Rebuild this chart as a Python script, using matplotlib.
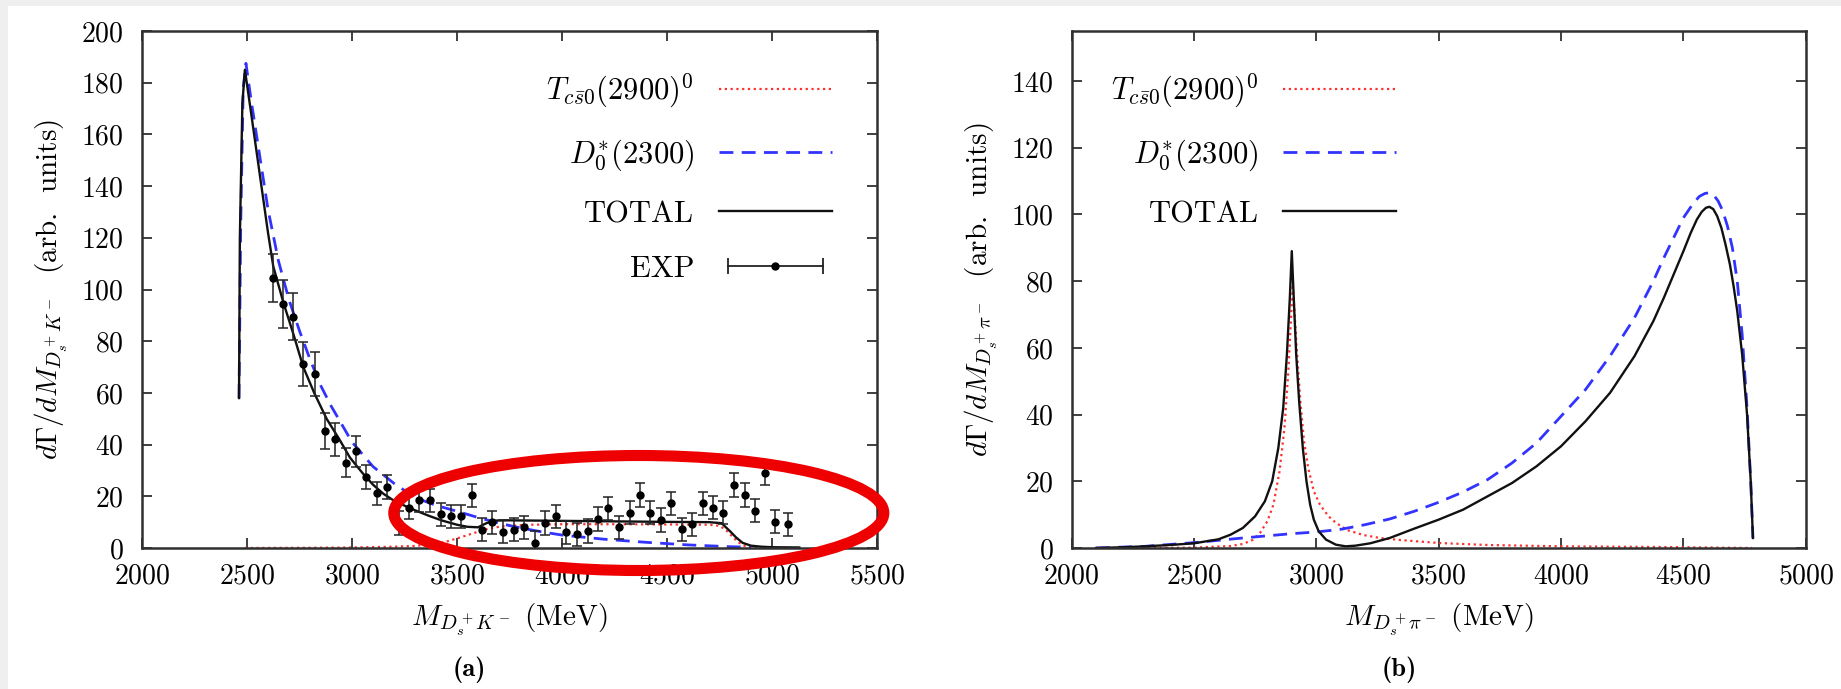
import matplotlib
matplotlib.use("Agg")
import matplotlib.pyplot as plt
from matplotlib.lines import Line2D
from matplotlib.patches import Ellipse, Rectangle
from matplotlib.legend_handler import HandlerLine2D, HandlerTuple

plt.rcParams['font.family'] = ['cmr10', 'DejaVu Serif']
plt.rcParams['mathtext.fontset'] = 'cm'
plt.rcParams['axes.formatter.use_mathtext'] = True

# ---------------- panel (a) data ----------------
exp_x = [2626, 2671, 2718, 2766, 2822, 2872, 2920, 2970, 3020, 3068,
         3118, 3166, 3222, 3272, 3320, 3370, 3423, 3473, 3521, 3571,
         3619, 3669, 3719, 3772, 3817, 3870, 3921, 3971, 4021, 4070,
         4125, 4173, 4218, 4271, 4324, 4371, 4419, 4470, 4517, 4573,
         4620, 4670, 4720, 4768, 4820, 4871, 4919, 4967, 5014, 5075]
exp_y = [104.5, 94.5, 89.5, 71.2, 67.3, 45.4, 42.0, 33.0, 37.5, 27.5,
         21.2, 23.6, 9.7, 15.6, 18.5, 18.5, 13.1, 12.2, 12.2, 20.4,
         7.1, 10.0, 6.3, 7.1, 8.0, 2.0, 9.7, 12.2, 6.0, 5.3,
         6.6, 11.2, 15.3, 8.0, 13.7, 20.5, 13.7, 10.8, 17.3, 7.2,
         9.2, 17.3, 15.6, 13.7, 24.4, 20.5, 14.4, 28.9, 10.2, 9.2]
exp_err = [9.3, 9.3, 9.0, 8.4, 8.4, 7.0, 6.5, 5.5, 6.0, 4.8,
           4.5, 4.5, 4.5, 4.5, 4.5, 4.5, 4.5, 4.5, 4.5, 4.5,
           4.5, 4.5, 4.5, 4.5, 4.5, 4.5, 4.5, 4.5, 4.5, 4.5,
           4.5, 4.5, 4.5, 4.5, 4.5, 4.5, 4.5, 4.5, 4.5, 4.5,
           4.5, 4.5, 4.5, 4.5, 4.5, 4.5, 4.5, 4.5, 4.5, 4.5]

a_total_x = [2462, 2466, 2478, 2490, 2520, 2560, 2600, 2625, 2673, 2720,
             2768, 2820, 2879, 2940, 2990, 3050, 3100, 3149, 3200, 3260,
             3300, 3371, 3430, 3500, 3550, 3600, 3640, 3680, 3750, 4000,
             4250, 4500, 4700, 4760, 4800, 4830, 4860, 4900, 4950, 5000, 5130]
a_total_y = [58, 120, 172, 185, 168, 145, 122, 109, 95, 83,
             70, 60, 50, 42, 35, 29, 24.5, 21, 18.3, 16,
             14.6, 12.3, 10.6, 9.0, 8.2, 8.0, 9.6, 10.6, 10.7, 10.5,
             10.3, 10.1, 10.0, 9.6, 6.5, 4.0, 2.0, 0.9, 0.5, 0.3, 0.2]

a_d0_x = [2462, 2470, 2482, 2495, 2520, 2560, 2600, 2650, 2700, 2750,
          2800, 2850, 2900, 2950, 3000, 3100, 3200, 3300, 3400, 3500,
          3600, 3700, 3800, 3900, 4000, 4200, 4400, 4600, 4800, 4900]
a_d0_y = [58, 125, 178, 187.5, 173, 152, 131, 111, 96, 84,
          73, 63, 55, 48, 41, 31.5, 25, 19.5, 16.5, 14.2,
          11.8, 9.6, 7.8, 6.3, 5.0, 3.4, 2.2, 1.2, 0.5, 0.3]

a_tcs_x = [2490, 2800, 3000, 3200, 3300, 3400, 3450, 3500, 3550, 3600,
           3650, 3700, 3750, 3850, 4000, 4250, 4500, 4700, 4750, 4780,
           4810, 4840, 4870, 4900, 5000, 5130]
a_tcs_y = [0, 0.1, 0.2, 0.5, 0.8, 1.6, 2.5, 3.7, 5.0, 6.3,
           7.5, 8.2, 8.6, 9.0, 9.2, 9.2, 9.1, 9.0, 8.6, 7.0,
           4.5, 2.2, 0.8, 0.3, 0.1, 0.0]

# ---------------- panel (b) data ----------------
b_total_x = [2100, 2200, 2300, 2400, 2500, 2600, 2650, 2700, 2750, 2790,
             2820, 2845, 2865, 2880, 2892, 2900, 2908, 2918, 2930, 2945,
             2960, 2975, 2990, 3010, 3040, 3080, 3120, 3160, 3220, 3300,
             3400, 3500, 3600, 3700, 3800, 3900, 4000, 4100, 4200, 4300,
             4377, 4420, 4460, 4500, 4530, 4555, 4575, 4592, 4606, 4622,
             4638, 4655, 4672, 4690, 4705, 4720, 4740, 4760, 4775, 4784]
b_total_y = [0, 0.2, 0.5, 0.9, 1.4, 2.6, 4.0, 6.0, 9.5, 14,
             20, 30, 42, 58, 75, 89, 75, 58, 44, 30,
             20, 13, 8.5, 5, 2.5, 1.0, 0.5, 0.7, 1.4, 3.0,
             5.8, 8.5, 11.5, 15.5, 19.5, 24.5, 30.5, 38, 46.5, 57.5,
             68, 75, 82, 89, 94.5, 98.5, 100.8, 102, 102.3, 101.6,
             99.5, 96, 91, 85, 78.5, 71, 58, 40, 20, 3]

b_d0_x = [2100, 2300, 2500, 2700, 2900, 3000, 3100, 3200, 3300, 3400,
          3500, 3600, 3700, 3800, 3900, 4000, 4100, 4200, 4300, 4377,
          4420, 4460, 4500, 4540, 4565, 4588, 4606, 4624, 4642, 4660,
          4680, 4700, 4720, 4740, 4760, 4775, 4784]
b_d0_y = [0, 0.5, 1.6, 3.0, 4.3, 4.8, 5.6, 7.0, 8.7, 11.0,
          13.7, 16.8, 20.5, 25.5, 31.5, 39.5, 47.5, 57.5, 69, 80,
          87, 93, 99, 103.3, 105.4, 106.3, 106.5, 105.8, 104, 101.2,
          96.5, 90, 80, 64, 42, 20, 3]

b_tcs_x = [2100, 2500, 2650, 2700, 2740, 2770, 2800, 2825, 2850, 2870,
           2885, 2895, 2904, 2912, 2920, 2935, 2950, 2967, 2990, 3015,
           3050, 3083, 3130, 3192, 3260, 3342, 3500, 3700, 4000, 4400, 4780]
b_tcs_y = [0, 0.1, 0.6, 1.2, 2.4, 4.5, 8, 13, 23, 36,
           52, 66, 79, 70, 60, 44, 32, 24, 17, 13,
           9.5, 7.4, 5.3, 3.9, 3.0, 2.4, 1.5, 0.9, 0.5, 0.3, 0]

lab_tcs = r'$T_{c\bar{s}0}(2900)^0$'
lab_d0 = r'$D_0^{*}(2300)$'
lab_tot = 'TOTAL'
lab_exp = 'EXP'

RED = '#ff3030'
BLUE = '#3333ff'
SPINE = '#303030'

W, H = 1841, 689
fig = plt.figure(figsize=(W / 100, H / 100), dpi=100)
fig.patch.set_facecolor('#efefef')
fig.add_artist(Rectangle((8 / W, 0), 1 - 8 / W, 1 - 6 / H, transform=fig.transFigure,
                         facecolor='white', edgecolor='none', zorder=0))

axb = 1 - 548 / H
axh = 517 / H
ax1 = fig.add_axes([142 / W, axb, 735 / W, axh])
ax2 = fig.add_axes([1071.5 / W, axb, 734.3 / W, axh])

tick_fs = 20
lab_fs = 21
leg_fs = 22
for ax in (ax1, ax2):
    ax.set_facecolor('none')
    for s in ax.spines.values():
        s.set_linewidth(1.8)
        s.set_color(SPINE)
    ax.tick_params(direction='in', length=7, width=1.3, color=SPINE,
                   top=True, right=True, labelsize=tick_fs)
    ax.tick_params(axis='x', pad=11)
    ax.tick_params(axis='y', pad=13)

dash_style = (0, (5, 3))
dot_style = (0, (1, 1.6))

# panel (a)
l_tcs, = ax1.plot(a_tcs_x, a_tcs_y, color=RED, lw=1.6, ls=dot_style, label=lab_tcs)
l_d0, = ax1.plot(a_d0_x, a_d0_y, color=BLUE, lw=2.0, ls=dash_style, label=lab_d0)
l_tot, = ax1.plot(a_total_x, a_total_y, color='#111111', lw=1.7, label=lab_tot)
ax1.errorbar(exp_x, exp_y, yerr=exp_err, fmt='o', color='black', ms=5,
             elinewidth=1.1, capsize=3.5, capthick=1.1, ecolor='#222222', zorder=5)
ax1.set_xlim(2000, 5500)
ax1.set_ylim(0, 200)
ax1.set_xticks([2000, 2500, 3000, 3500, 4000, 4500, 5000, 5500])
ax1.set_yticks(range(0, 201, 20))
ax1.set_xlabel(r'$M_{D_s^+K^-}$ (MeV)', fontsize=lab_fs, labelpad=9)
ax1.set_ylabel(r'$d\Gamma/dM_{D_s^+K^-}$  (arb.  units)', fontsize=lab_fs, labelpad=8)

exp_caps = Line2D([], [], color='#222222', lw=1.3, marker='|', ms=11, mew=1.3)
exp_dot = Line2D([], [], color='black', ls='none', marker='o', ms=5)
exp_handle = (exp_caps, exp_dot)
hm = {exp_caps: HandlerLine2D(numpoints=2), exp_dot: HandlerLine2D(numpoints=1),
      exp_handle: HandlerTuple(ndivide=1, pad=0)}
ax1.legend([l_tcs, l_d0, l_tot, exp_handle], [lab_tcs, lab_d0, lab_tot, lab_exp],
           handler_map=hm, loc='upper right', bbox_to_anchor=(0.955, 0.945),
           markerfirst=False, frameon=False, fontsize=leg_fs, handlelength=3.7,
           handletextpad=0.8, labelspacing=0.9, borderaxespad=0)

# panel (b)
m_tcs, = ax2.plot(b_tcs_x, b_tcs_y, color=RED, lw=1.6, ls=dot_style, label=lab_tcs)
m_d0, = ax2.plot(b_d0_x, b_d0_y, color=BLUE, lw=2.0, ls=dash_style, label=lab_d0)
m_tot, = ax2.plot(b_total_x, b_total_y, color='#111111', lw=1.7, label=lab_tot)
ax2.set_xlim(2000, 5000)
ax2.set_ylim(0, 155)
ax2.set_xticks([2000, 2500, 3000, 3500, 4000, 4500, 5000])
ax2.set_yticks(range(0, 141, 20))
ax2.set_xlabel(r'$M_{D_s^+\pi^-}$ (MeV)', fontsize=lab_fs, labelpad=9)
ax2.set_ylabel(r'$d\Gamma/dM_{D_s^+\pi^-}$  (arb.  units)', fontsize=lab_fs, labelpad=8)
ax2.legend([m_tcs, m_d0, m_tot], [lab_tcs, lab_d0, lab_tot],
           loc='upper left', bbox_to_anchor=(0.037, 0.945),
           markerfirst=False, frameon=False, fontsize=leg_fs, handlelength=3.7,
           handletextpad=0.8, labelspacing=0.9, borderaxespad=0)

# captions
fig.text(469 / W, 1 - 670 / H, '(a)', ha='center', va='center', fontsize=19,
         family=['cmb10', 'DejaVu Serif'])
fig.text(1399 / W, 1 - 670 / H, '(b)', ha='center', va='center', fontsize=19,
         family=['cmb10', 'DejaVu Serif'])

# red highlight ellipse
fig.add_artist(Ellipse((638.8 / W, 1 - 513 / H), 490 / W, 115 / H,
                       transform=fig.transFigure, fill=False, edgecolor='#ee0000',
                       lw=8, zorder=10))

fig.savefig('out.png', dpi=100, facecolor=fig.get_facecolor())
